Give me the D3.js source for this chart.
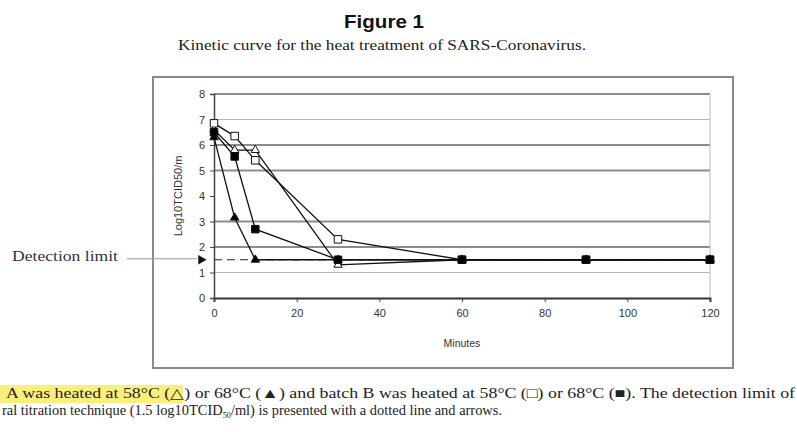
<!DOCTYPE html>
<html>
<head>
<meta charset="utf-8">
<script src="https://cdn.jsdelivr.net/npm/d3@7"></script>
<style>
  body { margin: 0; background: #fff; }
  svg { display: block; }
</style>
</head>
<body>
<div id="chart"></div>
<script>
const minutes = [0, 5, 10, 30, 60, 90, 120];
const openTriangle = [6.6, 5.8, 5.8, 1.3, 1.5, 1.5, 1.5];     // batch A, 58°C
const filledTriangle = [6.3, 3.15, 1.5, 1.5, 1.5, 1.5, 1.5];  // batch A, 68°C
const openSquare = [6.85, 6.35, 5.4, 2.3, 1.5, 1.5, 1.5];     // batch B, 58°C
const filledSquare = [6.5, 5.55, 2.7, 1.5, 1.5, 1.5, 1.5];    // batch B, 68°C
const yTicks = [0, 1, 2, 3, 4, 5, 6, 7, 8];
const xTicks = [0, 20, 40, 60, 80, 100, 120];
const gridValues = [1, 2, 3, 5, 6, 7, 8];
const detectionLimit = 1.5;

const W = 797, H = 432;
const plot = { left: 214, right: 710, top: 94, bottom: 298 };
const sans = 'Liberation Sans, Arial, sans-serif';
const serif = 'Liberation Serif, Times New Roman, serif';

const svg = d3.select('#chart').append('svg')
  .attr('width', W)
  .attr('height', H);

// titles
svg.append('text')
  .attr('x', 384).attr('y', 28)
  .attr('text-anchor', 'middle')
  .attr('textLength', 80)
  .attr('lengthAdjust', 'spacingAndGlyphs')
  .style('font-family', sans)
  .style('font-weight', 'bold')
  .style('font-size', '19px')
  .style('fill', '#111')
  .text('Figure 1');

svg.append('text')
  .attr('x', 382).attr('y', 50)
  .attr('text-anchor', 'middle')
  .attr('textLength', 408)
  .attr('lengthAdjust', 'spacingAndGlyphs')
  .style('font-family', serif)
  .style('font-size', '15px')
  .style('fill', '#222')
  .text('Kinetic curve for the heat treatment of SARS-Coronavirus.');

// outer frame
svg.append('rect')
  .attr('x', 153).attr('y', 77)
  .attr('width', 580).attr('height', 291)
  .attr('fill', 'none')
  .attr('stroke', '#8a8a8a')
  .attr('stroke-width', 2);

const x = d3.scaleLinear().domain([0, 120]).range([plot.left, plot.right]);
const y = d3.scaleLinear().domain([0, 8]).range([plot.bottom, plot.top]);

// gridlines
const gridWeight = v => (v === 1 || v === 7) ? 1 : 2;
svg.append('g').selectAll('line')
  .data(gridValues)
  .enter().append('line')
  .attr('x1', plot.left).attr('x2', plot.right)
  .attr('y1', d => y(d)).attr('y2', d => y(d))
  .attr('stroke', d => gridWeight(d) > 1 ? '#8c8c8c' : '#b5b5b5')
  .attr('stroke-width', gridWeight);

svg.append('line')
  .attr('x1', plot.right).attr('x2', plot.right)
  .attr('y1', plot.top).attr('y2', plot.bottom)
  .attr('stroke', '#bbb').attr('stroke-width', 1);

// axes
const tickStyle = g => {
  g.selectAll('text')
    .style('font-family', sans)
    .style('font-size', '11px')
    .style('fill', '#333');
  g.selectAll('line').attr('stroke', '#444');
};

svg.append('g')
  .attr('transform', `translate(0,${plot.bottom})`)
  .call(d3.axisBottom(x).tickValues(xTicks).tickSize(4).tickPadding(7))
  .call(g => g.select('.domain').attr('stroke', '#333').attr('stroke-width', 2))
  .call(tickStyle);

svg.append('g')
  .attr('transform', `translate(${plot.left},0)`)
  .call(d3.axisLeft(y).tickValues(yTicks).tickSize(4).tickPadding(5))
  .call(g => g.select('.domain').attr('stroke', '#444').attr('stroke-width', 1.5))
  .call(tickStyle);

svg.append('text')
  .attr('x', 462).attr('y', 347)
  .attr('text-anchor', 'middle')
  .style('font-family', sans)
  .style('font-size', '10.5px')
  .style('fill', '#333')
  .text('Minutes');

svg.append('text')
  .attr('transform', 'translate(182,196) rotate(-90)')
  .attr('text-anchor', 'middle')
  .style('font-family', sans)
  .style('font-size', '11px')
  .style('fill', '#333')
  .text('Log10TCID50/m');

// detection limit
svg.append('line')
  .attr('x1', x(0)).attr('x2', x(120))
  .attr('y1', y(detectionLimit)).attr('y2', y(detectionLimit))
  .attr('stroke', '#222').attr('stroke-width', 1.2)
  .attr('stroke-dasharray', '8,5');

svg.append('line')
  .attr('x1', 127).attr('x2', 197)
  .attr('y1', y(detectionLimit) - 1).attr('y2', y(detectionLimit) - 1)
  .attr('stroke', '#999').attr('stroke-width', 1);

svg.append('path')
  .attr('d', d3.symbol().type(d3.symbolTriangle).size(40)())
  .attr('transform', `translate(201,${y(detectionLimit)}) rotate(90)`)
  .attr('fill', '#111');

svg.append('text')
  .attr('x', 12).attr('y', 261)
  .attr('textLength', 106)
  .attr('lengthAdjust', 'spacingAndGlyphs')
  .style('font-family', serif)
  .style('font-size', '15px')
  .style('fill', '#333')
  .text('Detection limit');

// series (squares drawn last so they sit on top, as in the source)
const series = [
  { values: openTriangle, shape: d3.symbolTriangle, fill: '#fff' },
  { values: filledTriangle, shape: d3.symbolTriangle, fill: '#000' },
  { values: openSquare, shape: d3.symbolSquare, fill: '#fff' },
  { values: filledSquare, shape: d3.symbolSquare, fill: '#000' }
];

const line = d3.line()
  .x((d, i) => x(minutes[i]))
  .y(d => y(d));

series.forEach(s => {
  svg.append('path')
    .attr('d', line(s.values))
    .attr('fill', 'none')
    .attr('stroke', '#111')
    .attr('stroke-width', 1.3);
});

series.forEach(s => {
  svg.append('g').selectAll('path')
    .data(s.values)
    .enter().append('path')
    .attr('d', d3.symbol().type(s.shape).size(s.shape === d3.symbolSquare ? 56 : 30))
    .attr('transform', (d, i) => `translate(${x(minutes[i])},${y(d)})`)
    .attr('fill', s.fill)
    .attr('stroke', '#111')
    .attr('stroke-width', 1);
});

// caption
svg.append('rect')
  .attr('x', 0).attr('y', 385)
  .attr('width', 183).attr('height', 18)
  .attr('fill', '#fbef7c');

function captionLine(parts, xStart, yBase, len) {
  const t = svg.append('text')
    .attr('x', xStart).attr('y', yBase)
    .attr('textLength', len)
    .attr('lengthAdjust', 'spacingAndGlyphs')
    .style('font-family', serif).style('font-size', '14px').style('fill', '#222');
  parts.forEach(part => {
    const ts = t.append('tspan').text(part.text);
    if (part.sub) ts.attr('dy', 3).style('font-size', '8px');
    if (part.after) ts.attr('dy', -3);
  });
}

captionLine([
  { text: 'A was heated at 58°C (△) or 68°C (▲) and batch B was heated at 58°C (□) or 68°C (■). The detection limit of' }
], 6, 398, 789);

captionLine([
  { text: 'ral titration technique (1.5 log10TCID' },
  { text: '50', sub: true },
  { text: '/ml) is presented with a dotted line and arrows.', after: true }
], 2, 415, 500);
</script>
</body>
</html>
